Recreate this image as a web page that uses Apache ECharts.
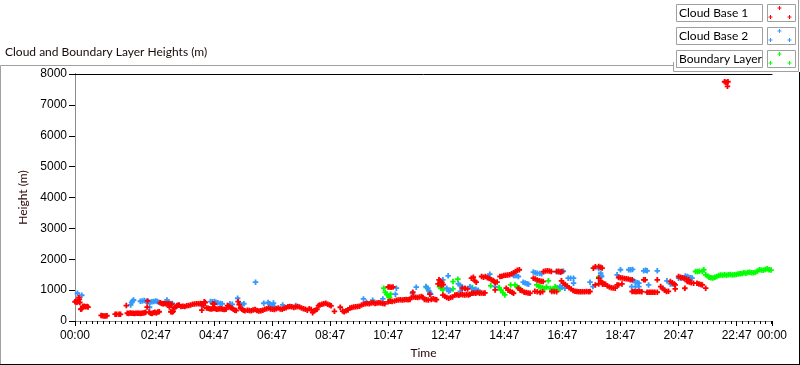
<!DOCTYPE html>
<html><head><meta charset="utf-8">
<script src="https://cdn.jsdelivr.net/npm/echarts@6/dist/echarts.min.js"></script>
<style>html,body{margin:0;padding:0;background:#fff}#c{width:800px;height:365px}</style>
</head><body><div id="c"></div>
<script>
const chartTitle = 'Cloud and Boundary Layer Heights (m)';
const seriesNames = ['Cloud Base 1', 'Cloud Base 2', 'Boundary Layer'];
const seriesColors = ['#ff0000', '#3399ff', '#00ff00'];
const xMajorTicks = [0, 167, 287, 407, 527, 647, 767, 887, 1007, 1127, 1247, 1367, 1440];
const yMin = 0, yMax = 8000, yStep = 1000;

// [minutes since 00:00, height m]
const cloudBase1 = [
[0,620],[2,640],[4,610],[6,630],[8,760],[9,700],[10,600],[12,380],[14,400],[16,470],[19,480],[22,460],[25,470],[27,450],
[54,180],[57,170],[60,160],[63,165],[66,170],
[83,220],[86,215],[91,220],[94,215],
[106,500],
[108,250],[111,240],[114,260],[117,250],[120,250],[123,245],[126,250],[129,255],[132,250],[135,245],[138,250],[141,260],[144,270],[146,280],
[149,450],[150,650],
[153,290],[156,250],[159,240],[162,270],[165,280],[168,260],[171,290],[174,300],
[176,590],[179,570],[182,560],[185,570],[188,560],[191,550],[194,560],[197,540],[200,545],
[198,300],[201,290],[203,310],[195,450],
[205,420],[208,450],[211,490],[214,520],
[215,510],[219,470],[223,480],[227,470],[231,490],[235,500],[239,520],[243,540],[247,550],[251,560],[255,560],[259,570],[262,555],
[262,350],[265,500],[267,620],[269,600],
[272,420],[275,410],[278,400],[281,390],[284,400],[287,410],[290,400],[293,380],[296,390],[299,400],[302,395],[305,380],[308,370],[312,380],
[285,560],[288,550],
[315,500],[318,470],[321,440],[324,420],[327,380],[330,350],[333,340],
[337,630],[339,530],[342,420],[345,380],[348,350],[351,330],
[356,350],[360,340],[364,330],[368,360],[372,370],[376,340],[380,320],[384,330],[388,350],[392,380],[396,400],[400,420],[404,390],[408,380],[412,370],[416,400],[420,420],[424,390],[428,380],[432,410],[436,430],[440,460],[444,470],[448,460],[452,440],[456,450],[460,470],[464,450],[468,420],[472,400],[476,380],[480,350],[484,400],[488,370],[491,270],[494,330],[497,360],[500,380],
[503,500],[506,520],[510,540],[514,560],[518,575],[522,540],[526,520],[529,490],
[536,314],[548,445],[553,320],[556,300],[560,330],[564,360],[568,420],[572,440],[576,450],[580,460],[584,470],[588,480],[592,520],[596,540],[600,560],[604,570],[608,560],[612,580],[616,590],[620,570],[624,580],[628,590],[632,580],[636,570],[640,560],
[647,620],[651,640],[655,630],[660,650],[664,670],[668,680],[672,690],[676,680],[680,690],[684,700],[688,690],[692,700],[695,760],[698,930],[700,780],[704,770],[708,760],[712,780],[716,790],[719,760],
[647,1100],[650,1100],[653,1090],[657,1100],
[722,700],[726,690],[730,680],[733,868],[736,700],[740,720],[744,700],[747,690],
[750,1200],[752,1333],[755,1300],[758,1250],[761,1180],[757,1150],
[760,840],[764,800],[768,760],[772,740],[776,760],[780,780],
[785,840],[789,850],[793,830],[797,860],[801,850],[805,840],[809,850],[813,840],[816,870],
[800,1060],[806,1050],[811,1040],
[820,900],[824,910],[828,900],[832,920],[836,900],[840,910],[844,900],[847,910],
[819,1388],[823,1420],[826,1300],[829,1258],
[840,1440],[844,1420],[848,1440],[852,1400],[856,1380],[860,1340],[864,1310],[866,1280],[868,1250],[872,1260],
[868,1008],
[878,1440],[882,1450],[886,1470],[890,1480],[894,1490],[898,1496],[902,1530],[906,1560],[910,1600],[914,1640],[918,1660],
[891,1063],[895,1000],[899,960],[903,930],[906,900],
[916,1060],[920,1000],[924,980],[928,930],[932,920],[936,910],[940,900],
[947,1388],[951,1360],[955,1330],[959,1300],[963,1290],[967,1280],
[968,1600],[972,1620],[976,1626],[980,1620],[984,1600],
[950,960],[955,950],[961,920],[966,950],
[985,955],[990,955],[995,950],
[995,1600],[999,1610],[1003,1580],[1006,1603],
[1005,1300],
[1009,1225],[1013,1180],[1017,1130],[1021,1080],[1025,1040],[1029,990],[1033,960],[1037,955],[1041,950],[1045,950],[1049,950],[1053,950],[1057,955],[1061,950],[1064,955],
[1071,1710],[1075,1760],[1082,1766],[1086,1740],[1089,1713],
[1075,1170],
[1082,1390],[1086,1300],[1089,1250],[1093,1200],[1096,1190],
[1082,1200],[1090,1190],
[1100,1130],[1104,1100],[1108,1080],[1112,1070],[1116,1063],
[1120,1170],[1123,1170],
[1123,1410],[1127,1400],[1131,1390],[1135,1380],[1139,1370],[1143,1360],[1147,1340],[1151,1333],
[1130,1200],
[1151,955],[1155,955],[1159,950],[1163,955],[1167,955],[1171,950],
[1175,1333],[1178,1333],
[1182,932],[1186,930],[1190,932],[1194,930],[1198,935],[1203,932],
[1203,1333],
[1210,1116],[1214,1050],[1218,1000],[1222,955],[1226,960],
[1230,1278],[1234,1240],[1238,1200],[1240,1170],
[1240,1040],
[1247,1440],[1251,1420],[1255,1400],[1259,1380],[1263,1360],[1268,1333],
[1260,1060],
[1265,1278],[1269,1260],[1273,1240],[1278,1225],
[1285,1225],[1289,1200],[1293,1180],[1296,1170],
[1303,1063],
[1342,7750],[1345,7730],[1349,7750],[1348,7600]
];

const cloudBase2 = [
[5,900],[14,835],[115,520],[117,600],[119,650],[121,680],[135,640],[139,650],[143,660],[147,640],[151,620],[155,610],[159,620],[163,630],[154,445],[167,650],[170,630],[173,610],[190,683],[193,620],[197,570],[201,570],[210,500],[262,500],[280,630],[284,620],[288,630],[291,610],[295,590],[300,570],[304,560],[320,560],[325,540],[336,737],[341,560],[345,520],[349,560],[373,1258],[390,575],[399,600],[402,560],[405,520],[408,480],[412,465],[410,580],[429,520],[456,500],[596,715],[602,607],[615,672],[636,715],[662,868],[664,1063],[697,900],[705,1096],
[725,1116],[729,1060],[731,980],[733,920],[735,870],[760,1333],[771,1463],[768,1060],[772,960],[775,1000],[792,1200],[796,1160],[800,1100],[805,1060],[796,960],[816,1110],[820,1050],[824,1000],[828,1030],[833,1000],[833,955],[855,1410],[857,1518],[868,1116],[906,1474],[909,1470],[912,1474],[916,1440],[926,1258],[930,1230],[934,1210],[937,1193],[947,1583],[951,1560],[955,1550],[960,1540],[964,1528],[995,1600],[999,1590],[1003,1600],[1009,1610],[1002,1116],[1006,1090],[1012,1063],[1019,1388],[1024,1388],[1030,1388],[1030,1225],[1064,1258],[1070,1116],
[1082,1700],[1086,1550],[1087,1480],[1088,1440],[1120,1496],[1127,1660],[1144,1660],[1148,1660],[1152,1670],[1154,1300],[1158,1260],[1162,1240],[1165,1225],[1150,1116],[1158,1116],[1165,1116],[1175,1626],[1179,1640],[1182,1626],[1185,1170],[1203,1626],[1214,1060],[1223,1300],[1230,1200],[1234,1200],[1247,1388],[1252,1388],[1258,1388],[1261,1460],[1265,1440],[1268,1420],[1272,1400],[1275,1390],[1270,1300]
];

const boundaryLayer = [
[638,1063],[641,932],[645,845],[648,800],[650,758],[652,868],
[726,1083],[753,1116],[756,1060],[760,1008],[781,1278],[791,1355],[781,1040],[821,1083],[822,900],[859,1138],[876,1083],[880,1000],[884,920],[888,845],[900,1170],[909,1170],[913,1120],[917,1080],[919,1040],[954,1170],[958,1120],[962,1100],[966,1080],[970,1050],[974,1100],[978,1300],[982,1050],[986,1020],[988,1008],[992,1116],[996,1080],[1000,1060],[1002,1040],[1082,1420],
[1282,1603],[1286,1603],[1290,1610],[1296,1603],[1299,1660],[1303,1496],[1307,1460],[1310,1420],[1314,1400],[1318,1390],[1322,1420],[1326,1440],[1330,1470],[1334,1490],[1338,1480],[1342,1500],[1346,1480],[1350,1500],[1354,1510],[1358,1490],[1362,1500],[1366,1510],[1370,1520],[1374,1530],[1378,1540],[1382,1560],[1386,1550],[1390,1570],[1394,1580],[1398,1560],[1402,1560],[1406,1580],[1410,1620],[1414,1660],[1418,1650],[1422,1640],[1426,1670],[1430,1690],[1434,1660],[1438,1650],[1441,1620]
];

const seriesData = [cloudBase1, cloudBase2, boundaryLayer];

const minorTicks = [];
for (let t = xMajorTicks[1] - 12; t > 0; t -= 12) minorTicks.push(t);
for (let t = xMajorTicks[1] + 12; t < 1440; t += 12) if (xMajorTicks.indexOf(t) < 0) minorTicks.push(t);

function fmt(v) {
  v = Math.round(v) % 1440;
  const h = Math.floor(v / 60), m = v % 60;
  return (h < 10 ? '0' : '') + h + ':' + (m < 10 ? '0' : '') + m;
}

const plusPath = 'path://M0,2H2V0H4V2H6V4H4V6H2V4H0Z';
const uiFont = 'Lato';

const chart = echarts.init(document.getElementById('c'), null, {renderer: 'canvas'});

const graphics = [
  {type: 'line', shape: {x1: 0.5, y1: 65.5, x2: 673.5, y2: 65.5}, style: {stroke: '#a0a0a0', lineWidth: 1}, silent: true},
  {type: 'line', shape: {x1: 673.5, y1: 62, x2: 673.5, y2: 71.5}, style: {stroke: '#a0a0a0', lineWidth: 1}, silent: true},
  {type: 'line', shape: {x1: 673.5, y1: 71.5, x2: 798.5, y2: 71.5}, style: {stroke: '#a0a0a0', lineWidth: 1}, silent: true},
  {type: 'line', shape: {x1: 798.5, y1: 0, x2: 798.5, y2: 71.5}, style: {stroke: '#a0a0a0', lineWidth: 1}, silent: true},
  {type: 'line', shape: {x1: 0.5, y1: 65.5, x2: 0.5, y2: 364}, style: {stroke: '#a0a0a0', lineWidth: 1}, silent: true},
  {type: 'line', shape: {x1: 799.5, y1: 72, x2: 799.5, y2: 365}, style: {stroke: '#000', lineWidth: 1}, silent: true},
  {type: 'line', shape: {x1: 0, y1: 364.5, x2: 800, y2: 364.5}, style: {stroke: '#000', lineWidth: 1}, silent: true},
  {type: 'text', left: 5, top: 46, style: {text: chartTitle, font: '12px Lato', fill: '#1a0a0a'}}
];
seriesNames.forEach((name, i) => {
  const y0 = 4 + 23 * i;
  graphics.push({type: 'rect', shape: {x: 676.5, y: y0 + 0.5, width: 86, height: 17}, style: {fill: '#fff', stroke: '#a0a0a0', lineWidth: 1}});
  graphics.push({type: 'text', x: 679, y: y0 + 9.5, style: {text: name, font: '12px Lato', fill: '#000', verticalAlign: 'middle'}});
  graphics.push({type: 'rect', shape: {x: 767.5, y: y0 + 0.5, width: 28, height: 17}, style: {fill: '#fff', stroke: '#a0a0a0', lineWidth: 1}});
  [[779, 4], [770, 13], [789, 13]].forEach(p => {
    graphics.push({type: 'rect', shape: {x: p[0] - 1.5, y: y0 + p[1] - 0.5, width: 4, height: 1}, style: {fill: seriesColors[i]}});
    graphics.push({type: 'rect', shape: {x: p[0], y: y0 + p[1] - 2, width: 1, height: 4}, style: {fill: seriesColors[i]}});
  });
});

const option = {
  animation: false,
  backgroundColor: '#fff',
  grid: {left: 75, right: 28, top: 74, bottom: 44, containLabel: false},
  xAxis: [
    {
      type: 'value', min: 0, max: 1440, position: 'bottom',
      name: 'Time', nameLocation: 'middle', nameGap: 26,
      nameTextStyle: {fontFamily: uiFont, fontSize: 12, color: '#2a0505'},
      axisLine: {show: true, lineStyle: {color: '#8c8c8c', width: 1}},
      axisTick: {show: true, length: 5, customValues: xMajorTicks, lineStyle: {color: '#000'}},
      axisLabel: {customValues: xMajorTicks, formatter: fmt, fontFamily: 'Liberation Sans', fontSize: 12, color: '#000', margin: 9, showMinLabel: true, showMaxLabel: true},
      splitLine: {show: false}
    },
    {
      type: 'value', min: 0, max: 1440, position: 'bottom', gridIndex: 0,
      axisLine: {show: false},
      axisTick: {show: true, length: 3, customValues: minorTicks, lineStyle: {color: '#000'}},
      axisLabel: {show: false},
      splitLine: {show: false}
    },
    {
      type: 'value', min: 0, max: 1440, position: 'top',
      axisLine: {show: true, lineStyle: {color: '#000', width: 1}},
      axisTick: {show: false}, axisLabel: {show: false}, splitLine: {show: false}
    }
  ],
  yAxis: [
    {
      type: 'value', min: yMin, max: yMax, interval: yStep, position: 'left',
      name: 'Height (m)', nameLocation: 'middle', nameGap: 42, nameRotate: 90,
      nameTextStyle: {fontFamily: uiFont, fontSize: 12, color: '#2a0505'},
      axisLine: {show: true, lineStyle: {color: '#000', width: 1}},
      axisTick: {show: true, length: 6, lineStyle: {color: '#000'}},
      axisLabel: {formatter: v => String(v), fontFamily: 'Liberation Sans', fontSize: 12, color: '#000', margin: 8},
      splitLine: {show: false}
    },
    {
      type: 'value', min: yMin, max: yMax, position: 'right',
      axisLine: {show: true, lineStyle: {color: '#8c8c8c', width: 1}},
      axisTick: {show: false}, axisLabel: {show: false}, splitLine: {show: false}
    }
  ],
  series: seriesNames.map((name, i) => ({
    name: name, type: 'scatter', data: seriesData[i],
    symbol: plusPath, symbolSize: 5.5,
    itemStyle: {color: seriesColors[i], opacity: 1},
    z: 3 - i
  })),
  graphic: graphics
};
chart.setOption(option);
</script>
</body></html>
